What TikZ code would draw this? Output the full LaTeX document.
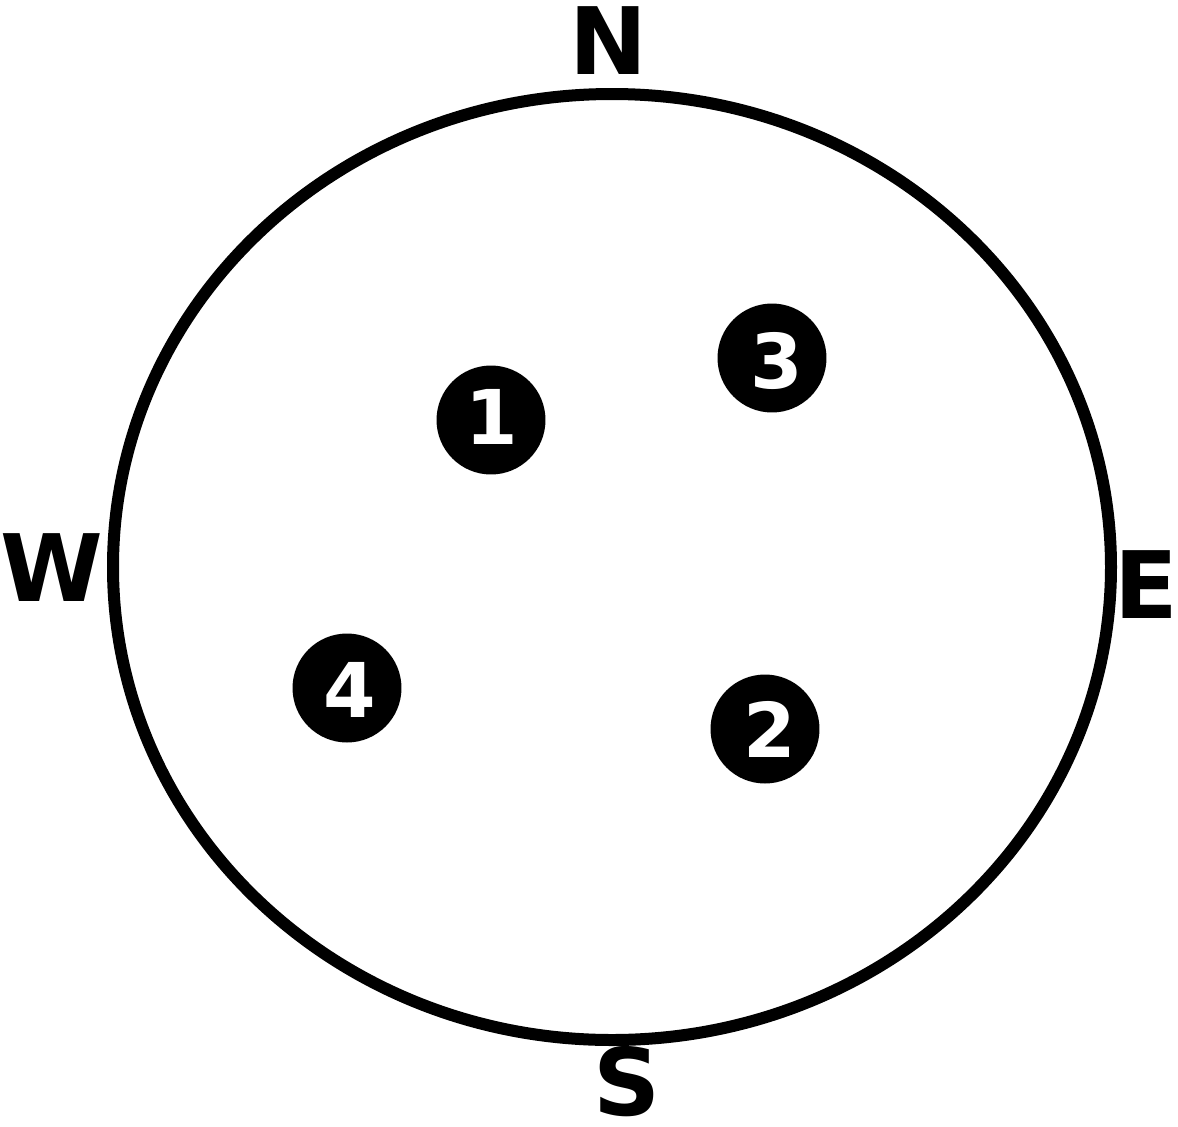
\documentclass[tikz,border=0pt]{standalone}
\usepackage{fontspec}
\setmainfont{DejaVu Sans}
\usetikzlibrary{positioning, shapes.geometric}

\begin{document}
\begin{tikzpicture}[
  x=0.02cm, y=-0.02cm,
  ring/.style={line width=0.24cm},
  spot/.style={circle, fill=black, minimum size=2.18cm, inner sep=0pt},
  num/.style={anchor=base, text=white, font=\fontsize{43}{43}\selectfont\bfseries},
  dir/.style={anchor=base, inner sep=0pt, font=\fontsize{53}{53}\selectfont\bfseries},
]
  \useasboundingbox (0,0) rectangle (1178,1127);

  % compass ring
  \node[ring, draw, ellipse, minimum width=998*0.02cm, minimum height=946*0.02cm,
        inner sep=0pt] (rim) at (612,567) {};

  % directions
  \node[dir] (north) at (608,74)   {N};
  \node[dir] (south) at (627,1115) {S};
  \node[dir] (east)  at (1146,618) {E};
  \node[dir] (west)  at (52,601)   {W};

  % numbered spots
  \node[spot] (s1) at (491,420) {};
  \node[spot] (s2) at (765,729) {};
  \node[spot] (s3) at (772,358) {};
  \node[spot] (s4) at (347,688) {};
  \node[num] (n1) at (492,444) {1};
  \node[num] (n2) at (770,757) {2};
  \node[num] (n3) at (777,388) {3};
  \node[num] (n4) at (350,717) {4};
\end{tikzpicture}
\end{document}
